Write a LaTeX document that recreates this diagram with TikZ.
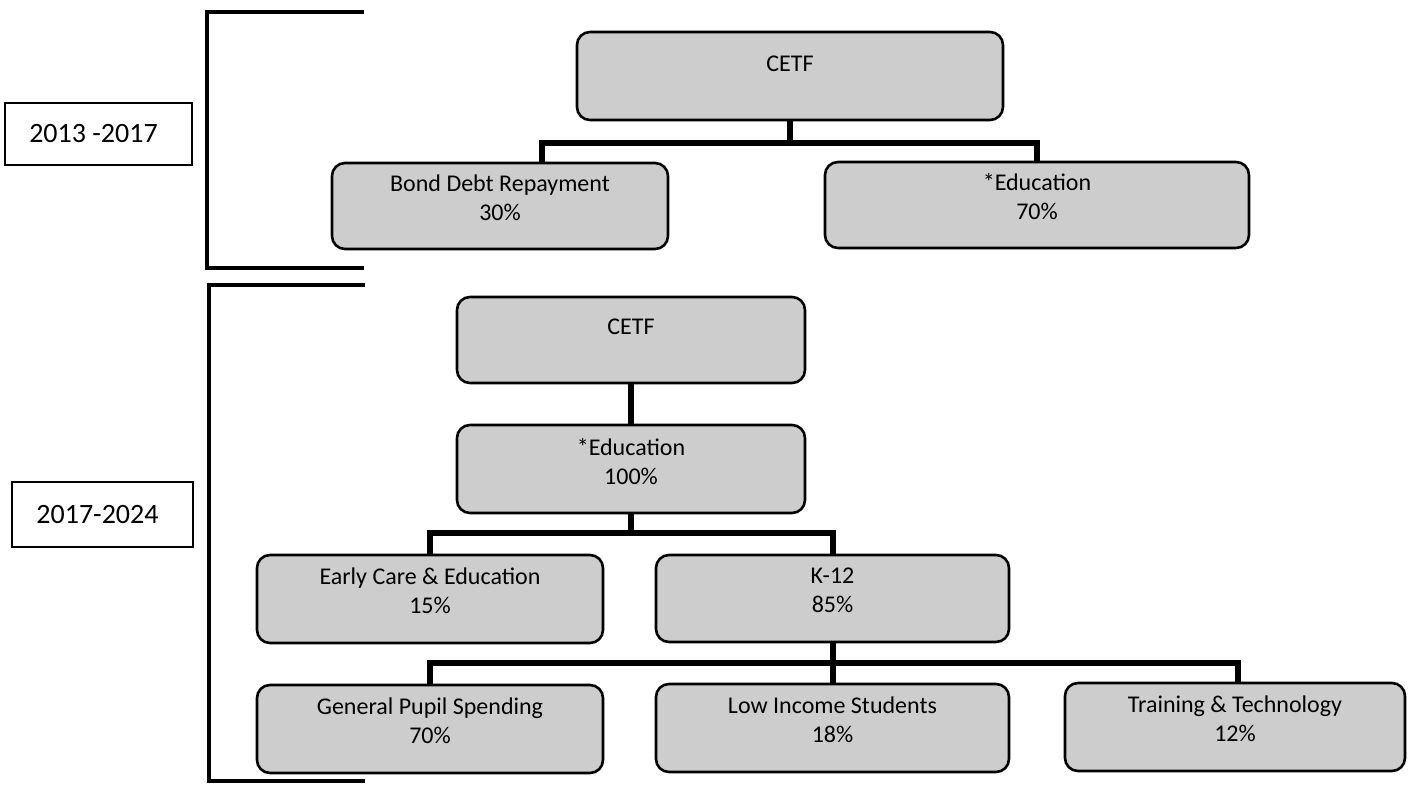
\documentclass[tikz,border=0pt]{standalone}
\usepackage{fontspec}
\setmainfont{Carlito}
\usetikzlibrary{backgrounds}
\definecolor{boxfill}{RGB}{205,205,205}
\begin{document}
\begin{tikzpicture}[x=0.5pt,y=-0.5pt,
  box/.style={draw=black,line width=1.3pt,rounded corners=6.5pt,fill=boxfill,inner sep=0pt},
  txt/.style={align=center,font=\fontsize{12}{14.5}\selectfont,inner sep=0pt},
  conn/.style={line width=3.3pt,line join=miter},
  bracket/.style={line width=2.3pt,line join=miter},
  period/.style={draw=black,line width=1pt,inner sep=0pt,font=\fontsize{14}{17}\selectfont}]
\useasboundingbox (0,0) rectangle (1410,787);

% period labels
\node[period,minimum width=93.5pt,minimum height=31pt] (p1) at (98.5,134) {};
\node[txt,font=\fontsize{14}{17}\selectfont] at ([xshift=-2.5pt]p1.center) {2013 -2017};
\node[period,minimum width=90.5pt,minimum height=32.5pt] (p2) at (102.5,514.5) {};
\node[txt,font=\fontsize{14}{17}\selectfont] at ([xshift=-2.5pt]p2.center) {2017-2024};

% brackets
\draw[bracket] (364,12) -- (207,12) -- (207,268) -- (364,268);
\draw[bracket] (365,285) -- (209,285) -- (209,781) -- (365,781);

% 2013-2017 boxes
\node[box,minimum width=213pt,minimum height=44pt] (cetf1) at (790,76) {};
\node[txt] at ([yshift=6pt]cetf1.center) {CETF};
\node[box,minimum width=168pt,minimum height=43pt] (bond) at (500,206) {};
\node[txt] at ([yshift=4pt]bond.center) {Bond Debt Repayment\\30\%};
\node[box,minimum width=212pt,minimum height=43pt] (edu1) at (1037,205) {};
\node[txt] at ([yshift=4pt]edu1.center) {*Education\\70\%};

% 2017-2024 boxes
\node[box,minimum width=174pt,minimum height=43pt] (cetf2) at (631,340) {};
\node[txt] at ([yshift=6.5pt]cetf2.center) {CETF};
\node[box,minimum width=174pt,minimum height=44pt] (edu2) at (631,469) {};
\node[txt] at ([yshift=3.5pt]edu2.center) {*Education\\100\%};
\node[box,minimum width=173pt,minimum height=44pt] (early) at (430,599) {};
\node[txt] at ([yshift=4pt]early.center) {Early Care \& Education\\15\%};
\node[box,minimum width=176.5pt,minimum height=43.5pt] (k12) at (832.5,598.5) {};
\node[txt] at ([yshift=4pt]k12.center) {K-12\\85\%};
\node[box,minimum width=173pt,minimum height=44pt] (gen) at (430,729) {};
\node[txt] at ([yshift=4pt]gen.center) {General Pupil Spending\\70\%};
\node[box,minimum width=176.5pt,minimum height=44pt] (low) at (832.5,728) {};
\node[txt] at ([yshift=4pt]low.center) {Low Income Students\\18\%};
\node[box,minimum width=170pt,minimum height=44pt] (train) at (1235,727) {};
\node[txt] at ([yshift=4pt]train.center) {Training \& Technology\\12\%};

% connectors
\coordinate (b1L) at (542,143);
\coordinate (b1R) at (1037,143);
\coordinate (b2L) at (430,533);
\coordinate (b2R) at (833,533);
\coordinate (b3L) at (430,663);
\coordinate (b3R) at (1238,663);
\begin{scope}[on background layer]
\draw[conn] (cetf1.south) -- (cetf1.south |- b1L);
\draw[conn] (bond.north -| b1L) -- (b1L) -- (b1R) -- (edu1.north -| b1R);
\draw[conn] (cetf2.south) -- (edu2.north);
\draw[conn] (edu2.south) -- (edu2.south |- b2L);
\draw[conn] (early.north) |- (b2R) -- (k12.north -| b2R);
\draw[conn] (k12.south -| b2R) -- (b3L -| b2R);
\draw[conn] (gen.north) |- (b3R) -- (train.north -| b3R);
\draw[conn] (low.north -| b2R) -- (b3L -| b2R);
\end{scope}
\end{tikzpicture}
\end{document}
